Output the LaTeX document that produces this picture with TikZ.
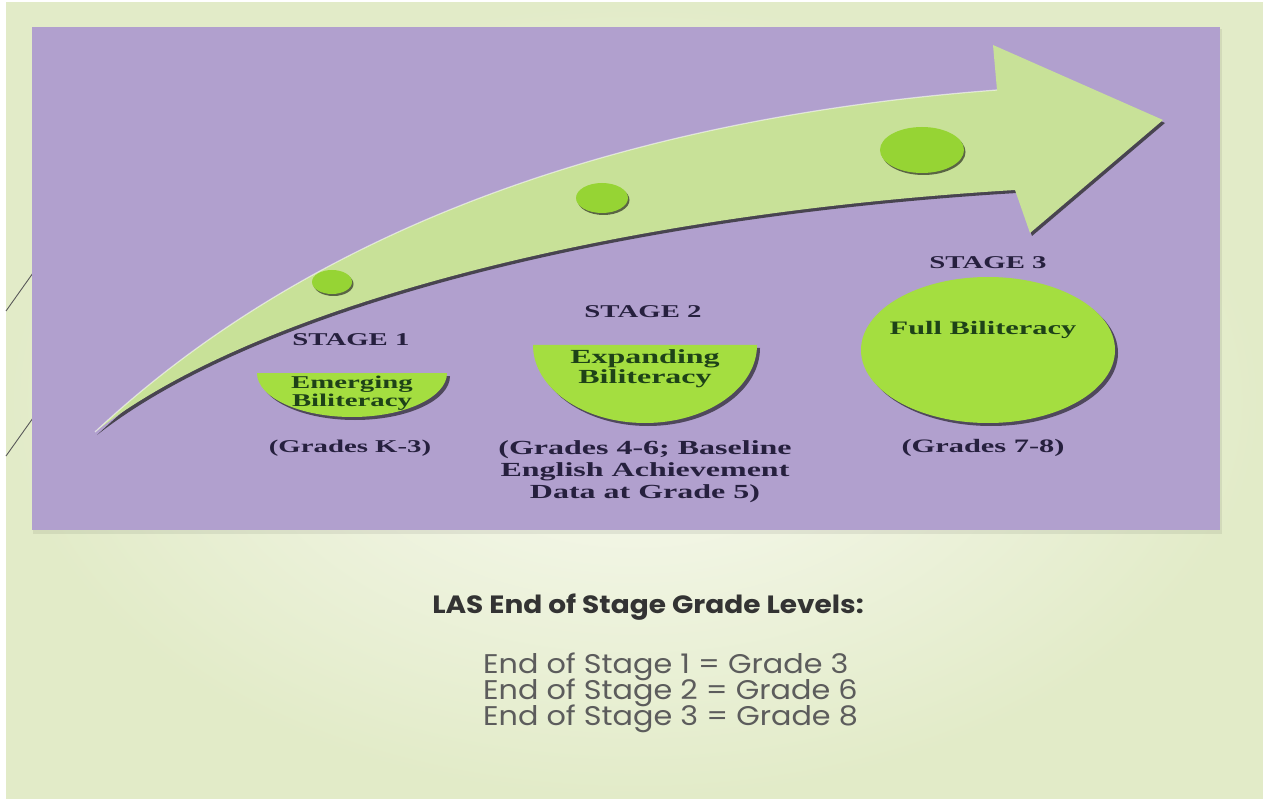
\documentclass[tikz,border=0pt]{standalone}
\usepackage{fontspec}
\usepackage{graphicx}
\setmainfont{Liberation Serif}
\newfontfamily\gothic{Poppins}
\usetikzlibrary{positioning,shapes.geometric,shadows}

\definecolor{slidebg}{RGB}{226,235,200}
\definecolor{slidelight}{RGB}{249,250,242}
\definecolor{panel}{RGB}{177,160,206}
\definecolor{arrowgreen}{RGB}{200,225,152}
\definecolor{dotgreen}{RGB}{150,212,52}
\definecolor{blobgreen}{RGB}{164,222,64}
\definecolor{navytext}{RGB}{38,32,62}
\definecolor{leaftext}{RGB}{30,66,24}
\definecolor{greytext}{RGB}{92,92,92}

\newcommand{\wider}[1]{\scalebox{1.6}[1]{#1}}
\newcommand{\gwide}[1]{\scalebox{1.12}[1]{#1}}
\newcommand{\bowl}[4]{(#1-#3,#2) -- (#1+#3,#2) arc[start angle=0, end angle=180, x radius=#3, y radius=#4] -- cycle}
\newcommand{\arrowpath}{(95,432) .. controls (300,240) and (600,120) .. (997,90) -- (993,45) -- (1163,120) -- (1030,233) -- (1015,190) .. controls (600,215) and (250,310) .. (95,432) -- cycle}

\tikzset{
  stage/.style={font=\bfseries\fontsize{18}{18}\selectfont, text=navytext, inner sep=0pt},
  inside/.style={font=\bfseries\fontsize{18}{18}\selectfont, text=leaftext, inner sep=0pt},
  dot/.style={ellipse, fill=dotgreen, inner sep=0pt, drop shadow={shadow xshift=1.5pt, shadow yshift=-2pt, opacity=.55, fill=black}},
  blobshadow/.style={fill=black, opacity=.55},
  greyline/.style={draw=black!65, line width=0.9pt},
  heading/.style={font=\gothic\bfseries\fontsize{25}{25}\selectfont, text=black!80, inner sep=0pt},
  levels/.style={font=\gothic\fontsize{27}{27}\selectfont, text=greytext, inner sep=0pt}
}

\begin{document}
\begin{tikzpicture}[x=1pt,y=-1pt]
\useasboundingbox (0,0) rectangle (1263,799);
% slide and panel
\fill[white] (0,0) rectangle (1263,799);
\shade[inner color=slidelight, outer color=slidebg] (6,3) rectangle (1263,799);
\draw[greyline] (6,311) -- (33,273);
\draw[greyline] (6,456) -- (33,418);
\fill[black, opacity=.07] (33,29) rectangle (1222,534);
\fill[panel] (32,27) rectangle (1220,530);
%----------------------------------
% arrow with its dots
\fill[black!85, opacity=.75, shift={(2,3)}] \arrowpath;
\fill[arrowgreen] \arrowpath;
\draw[white, opacity=.55, line width=1.2pt] (95,432) .. controls (300,240) and (600,120) .. (997,90);
\node[dot, minimum width=40pt, minimum height=24pt] (d1) at (332,282) {};
\node[dot, minimum width=52pt, minimum height=30pt] (d2) at (602,198) {};
\node[dot, minimum width=84pt, minimum height=46pt] (d3) at (922,150) {};
%----------------------------------
% stage 1
\coordinate (h1) at (352,373);
\fill[blobshadow, shift={(3,3)}] \bowl{352}{373}{95}{44};
\fill[blobgreen] \bowl{352}{373}{95}{44};
\node[stage] (st1) at (351,340) {\wider{STAGE 1}};
\node[inside, below=3pt of h1] (in1) {\wider{\begin{tabular}{@{}c@{}}Emerging\\Biliteracy\end{tabular}}};
\node[stage] (gr1) at (350,448) {\wider{(Grades K-3)}};
%----------------------------------
% stage 2
\coordinate (h2) at (645,345);
\fill[blobshadow, shift={(3,3)}] \bowl{645}{345}{112}{78};
\fill[blobgreen] \bowl{645}{345}{112}{78};
\node[stage] (st2) at (643,312) {\wider{STAGE 2}};
\node[inside, font=\bfseries\fontsize{20}{20}\selectfont, below=4pt of h2] (in2) {\wider{\begin{tabular}{@{}c@{}}Expanding\\Biliteracy\end{tabular}}};
\node[stage, font=\bfseries\fontsize{20}{22}\selectfont] (gr2) at (645,472) {\wider{\begin{tabular}{@{}c@{}}(Grades 4-6; Baseline\\English Achievement\\Data at Grade 5)\end{tabular}}};
%----------------------------------
% stage 3
\node[ellipse, fill=blobgreen, minimum width=254pt, minimum height=146pt, drop shadow={shadow xshift=3pt, shadow yshift=-3pt, opacity=.55, fill=black}] (full) at (988,350) {};
\node[stage, above=8pt of full] (st3) {\wider{STAGE 3}};
\node[inside, font=\bfseries\fontsize{19}{19}\selectfont] (in3) at (983,330) {\wider{Full Biliteracy}};
\node[stage, font=\bfseries\fontsize{19}{19}\selectfont] (gr3) at (983,448) {\wider{(Grades 7-8)}};
%----------------------------------
% grade levels
\node[heading] (las) at (648,607) {\gwide{LAS End of Stage Grade Levels:}};
\foreach \s/\g in {1/3,2/6,3/8}
  \node[levels, anchor=base west] (end\s) at (483,647+26*\s) {\gwide{End of Stage \s{} = Grade \g}};
\end{tikzpicture}
\end{document}
